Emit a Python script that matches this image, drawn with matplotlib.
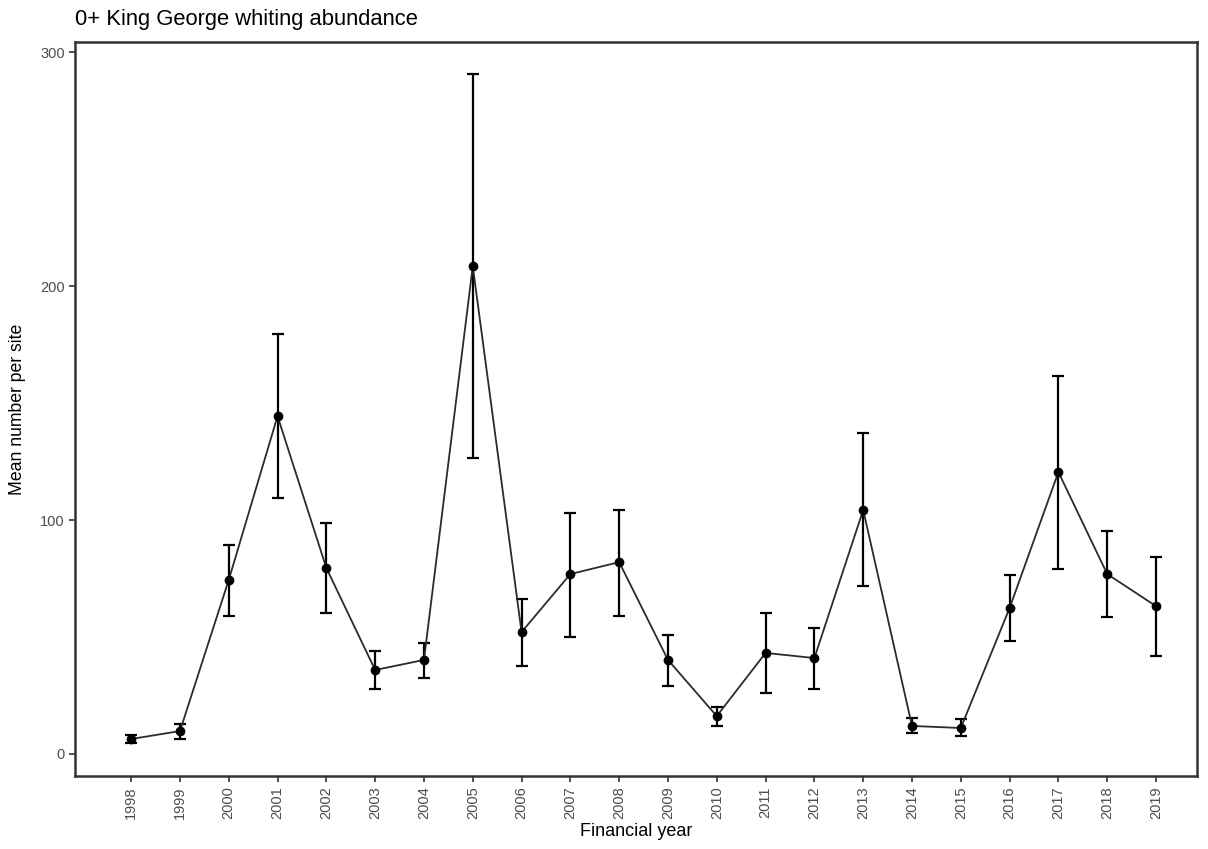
import numpy as np
import matplotlib
matplotlib.use("Agg")
import matplotlib.pyplot as plt

plt.rcParams['font.family'] = ['Liberation Sans', 'DejaVu Sans']

# Data
years = list(range(1998, 2020))
mean_vals = [6.4, 9.8, 74.4, 144.4, 79.5, 35.9, 40.2, 208.5, 52.1, 76.9, 82.0,
             40.2, 16.2, 43.2, 41.0, 104.3, 12.0, 11.1, 62.4, 120.5, 76.9, 63.2]
upper = [8.0, 12.8, 89.3, 179.5, 98.7, 44.0, 47.4, 290.6, 66.2, 103.0, 104.3,
         50.9, 20.1, 60.3, 53.8, 137.2, 15.4, 15.0, 76.5, 161.5, 95.3, 84.2]
lower = [4.7, 6.4, 59.0, 109.4, 60.3, 27.8, 32.5, 126.5, 37.6, 50.0, 59.0,
         29.0, 12.0, 26.0, 27.8, 71.8, 9.0, 7.7, 48.3, 79.0, 58.5, 41.9]

x = np.arange(len(years))
m = np.array(mean_vals)
yerr = [m - np.array(lower), np.array(upper) - m]

fig = plt.figure(figsize=(12.08, 8.49), dpi=100)
ax = fig.add_axes([0.0621, 0.086, 0.9288, 0.8645])

ax.errorbar(x, m, yerr=yerr, fmt='none', ecolor='black', elinewidth=1.6,
            capsize=4, capthick=1.6, zorder=2)
ax.plot(x, m, color='#2b2b2b', linewidth=1.3, zorder=3)
ax.scatter(x, m, s=36, color='black', zorder=4)

ax.set_xlim(-1.15, len(years) - 1 + 0.84)
ax.set_ylim(-9.4, 304.3)
ax.set_xticks(x)
ax.set_xticklabels([str(y) for y in years], rotation=90)
ax.set_yticks([0, 100, 200, 300])

for s in ax.spines.values():
    s.set_color('#333333')
    s.set_linewidth(1.8)
ax.tick_params(axis='both', colors='#333333', labelcolor='#4D4D4D',
               labelsize=10.5, length=4, width=1.2)

ax.set_xlabel('Financial year', fontsize=13, color='black', labelpad=3)
ax.set_ylabel('Mean number per site', fontsize=12.7, color='black', labelpad=10)
ax.set_title('0+ King George whiting abundance', loc='left', fontsize=15.8,
             pad=12)

fig.savefig('out.png', dpi=100)
